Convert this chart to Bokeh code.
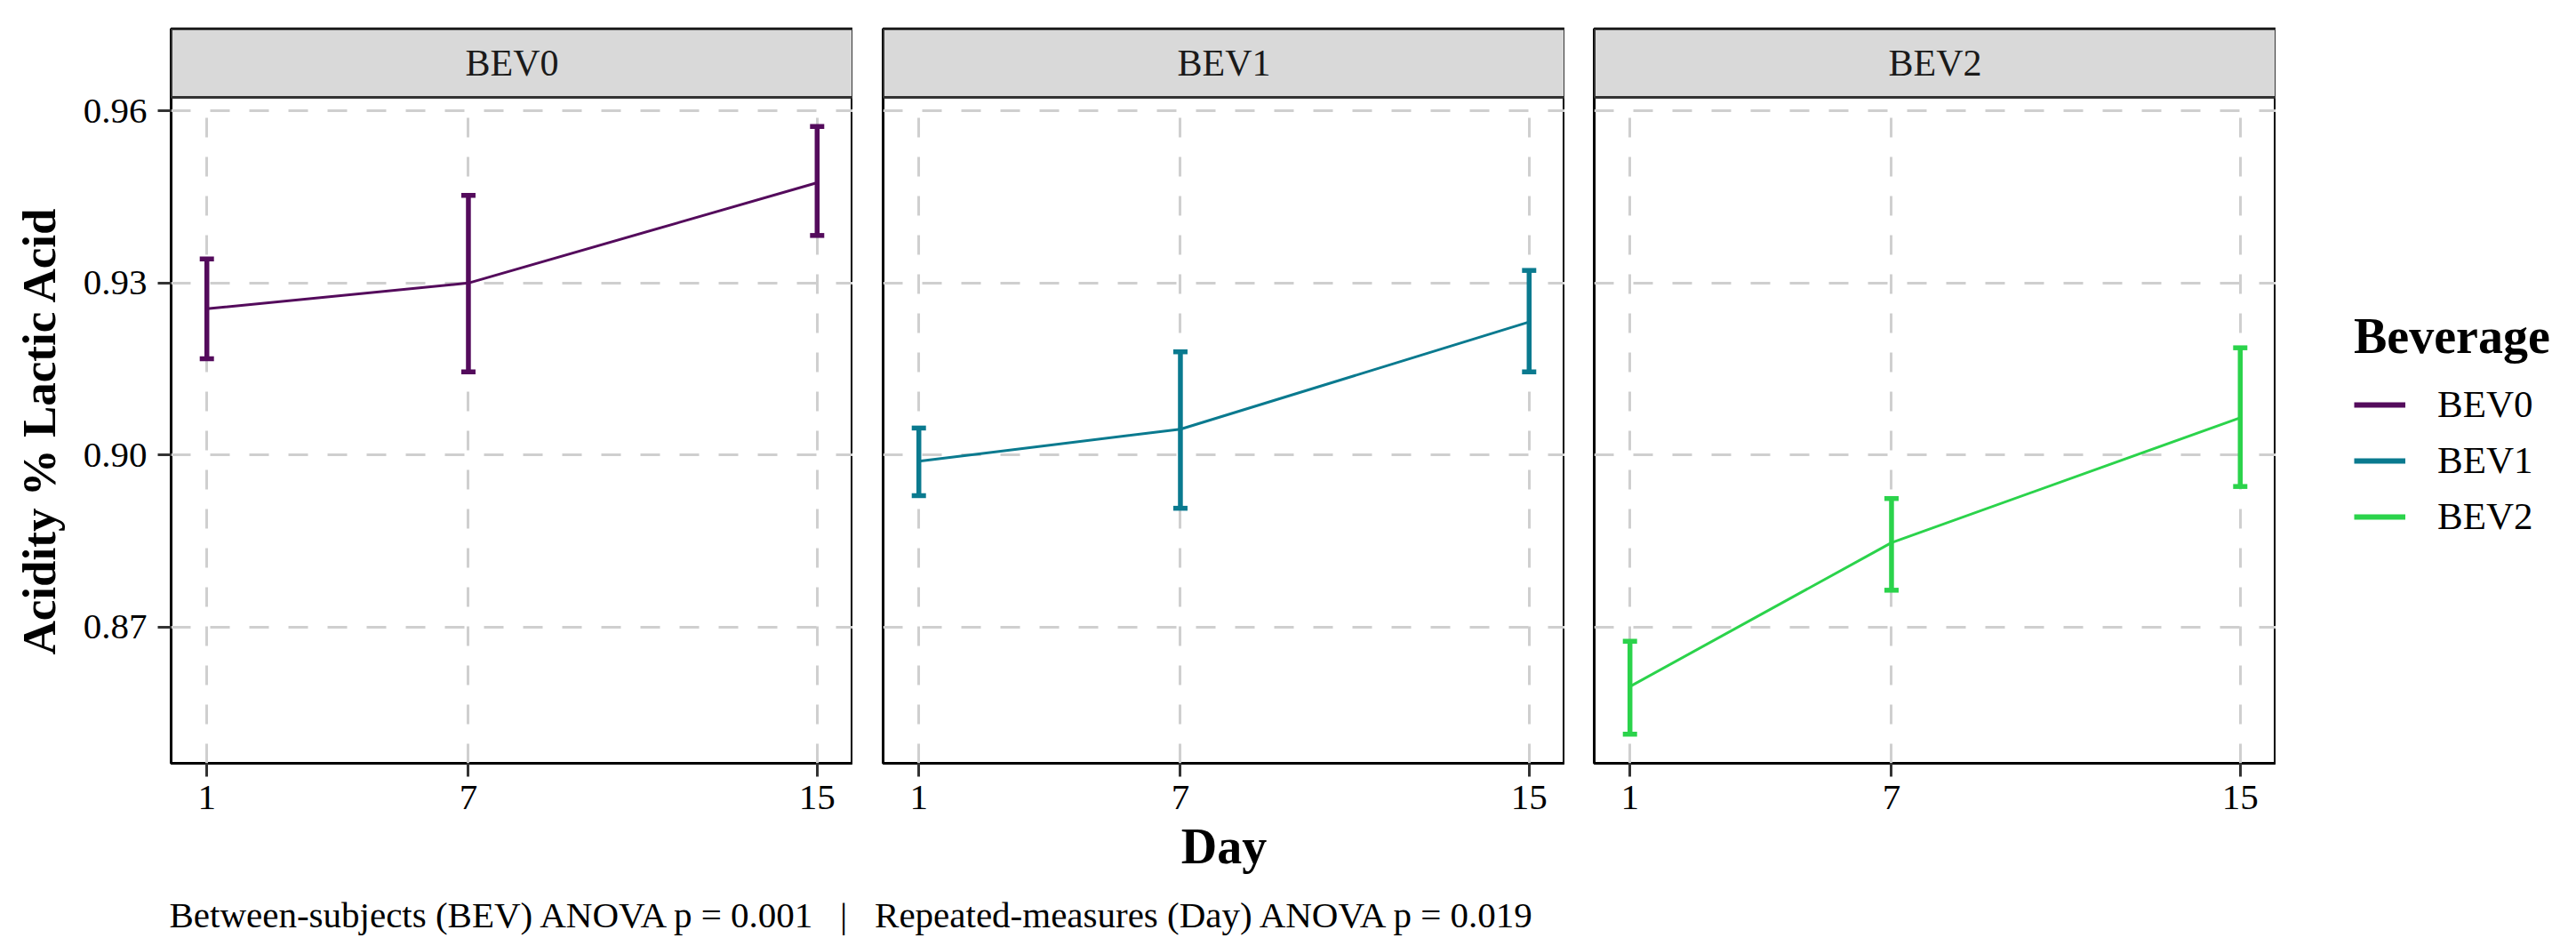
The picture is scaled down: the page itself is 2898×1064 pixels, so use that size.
import math

from bokeh.plotting import figure
from bokeh.models import (ColumnDataSource, Range1d, FixedTicker, PrintfTickFormatter,
                          Whisker, TeeHead, Label, Legend, LegendItem)
from bokeh.layouts import row, column
from bokeh.embed import file_html
from bokeh.resources import INLINE

# values
days = [1, 7, 15]
beverages = ["BEV0", "BEV1", "BEV2"]
colors = ["#540B5C", "#0A7A8F", "#2BD34B"]

bev0_mean = [0.9255, 0.9300, 0.9475]
bev0_lower = [0.9168, 0.9145, 0.9383]
bev0_upper = [0.9342, 0.9453, 0.9573]

bev1_mean = [0.8989, 0.9045, 0.9232]
bev1_lower = [0.8929, 0.8907, 0.9145]
bev1_upper = [0.9047, 0.9180, 0.9322]

bev2_mean = [0.8596, 0.8847, 0.9065]
bev2_lower = [0.8513, 0.8764, 0.8945]
bev2_upper = [0.8675, 0.8924, 0.9187]

y_ticks = [0.87, 0.90, 0.93, 0.96]
y_title = "Acidity % Lactic Acid"
caption = ("Between-subjects (BEV) ANOVA p = 0.001\u00a0\u00a0\u00a0|\u00a0\u00a0\u00a0"
           "Repeated-measures (Day) ANOVA p = 0.019")

series = [
    (bev0_mean, bev0_lower, bev0_upper),
    (bev1_mean, bev1_lower, bev1_upper),
    (bev2_mean, bev2_lower, bev2_upper),
]

FONT = "Liberation Serif"

# panel geometry (pixels)
widths = [869, 801, 800]
left_b = [101, 34, 33]
STRIP_PX, PANEL_PX = 77, 749

X0, X1 = 0.18, 15.82
Y0, PANEL_TOP = 0.8462, 0.9624
Y1 = PANEL_TOP + (PANEL_TOP - Y0) * STRIP_PX / PANEL_PX  # strip sits above the data area

# y axis title in a narrow column sharing the panels' vertical scale,
# centred on the data area (not on data + strip)
ytf = figure(width=90, height=992, x_range=Range1d(0, 90), y_range=Range1d(Y0, Y1),
             x_axis_location=None, y_axis_location=None, toolbar_location=None,
             output_backend="svg", min_border_left=0, min_border_right=0,
             min_border_top=32, min_border_bottom=134)
ytf.grid.visible = False
ytf.outline_line_color = None
ytf.add_layout(Label(x=43, y=(Y0 + PANEL_TOP) / 2, text=y_title, angle=math.pi / 2,
                     text_align="center", text_baseline="middle", text_font=FONT,
                     text_font_size="53px", text_font_style="bold", text_color="black"))

panels = []
for i, name in enumerate(beverages):
    p = figure(width=widths[i], height=992, x_range=Range1d(X0, X1), y_range=Range1d(Y0, Y1),
               toolbar_location=None, output_backend="svg",
               y_axis_location="left" if i == 0 else None,
               min_border_left=left_b[i], min_border_right=0,
               min_border_top=32, min_border_bottom=134)
    p.outline_line_color = "black"
    p.outline_line_width = 3

    p.xaxis.ticker = FixedTicker(ticks=days)
    p.ygrid.ticker = FixedTicker(ticks=y_ticks)
    p.grid.grid_line_color = "#CFCFCF"
    p.grid.grid_line_width = 3
    p.grid.grid_line_dash = "22 22"

    p.xaxis.axis_line_color = None
    p.xaxis.major_tick_line_color = "#333333"
    p.xaxis.major_tick_line_width = 3
    p.xaxis.major_tick_out = 15
    p.xaxis.major_tick_in = 0
    p.xaxis.minor_tick_line_color = None
    p.xaxis.major_label_text_font = FONT
    p.xaxis.major_label_text_font_size = "41px"
    p.xaxis.major_label_text_color = "black"
    p.xaxis.major_label_standoff = 10

    if i == 0:
        p.yaxis.ticker = FixedTicker(ticks=y_ticks)
        p.yaxis.formatter = PrintfTickFormatter(format="%.2f")
        p.yaxis.axis_line_color = None
        p.yaxis.major_tick_line_color = "#333333"
        p.yaxis.major_tick_line_width = 3
        p.yaxis.major_tick_out = 15
        p.yaxis.major_tick_in = 0
        p.yaxis.minor_tick_line_color = None
        p.yaxis.major_label_text_font = FONT
        p.yaxis.major_label_text_font_size = "41px"
        p.yaxis.major_label_text_color = "black"
        p.yaxis.major_label_standoff = 12
    if i == 1:
        p.xaxis.axis_label = "Day"
        p.xaxis.axis_label_text_font = FONT
        p.xaxis.axis_label_text_font_size = "56px"
        p.xaxis.axis_label_text_font_style = "bold"
        p.xaxis.axis_label_text_color = "black"
        p.xaxis.axis_label_standoff = 8

    # facet strip
    p.quad(left=X0, right=X1, bottom=PANEL_TOP, top=Y1, fill_color="#D9D9D9",
           line_color="#333333", line_width=3)
    p.add_layout(Label(x=(X0 + X1) / 2, y=(PANEL_TOP + Y1) / 2, text=name,
                       text_align="center", text_baseline="middle",
                       text_font=FONT, text_font_size="42px", text_color="#1A1A1A"))

    mean, lower, upper = series[i]
    src = ColumnDataSource(dict(day=days, mean=mean, lower=lower, upper=upper))
    c = colors[i]
    p.add_layout(Whisker(base="day", upper="upper", lower="lower", source=src,
                         line_color=c, line_width=5.5,
                         upper_head=TeeHead(size=16, line_color=c, line_width=5.5),
                         lower_head=TeeHead(size=16, line_color=c, line_width=5.5)))
    p.line("day", "mean", source=src, line_color=c, line_width=3)
    panels.append(p)

# legend in its own column to the right (proxy renderers hold no visible points)
leg = figure(width=338, height=992, x_range=Range1d(0, 1), y_range=Range1d(0, 1),
             x_axis_location=None, y_axis_location=None, toolbar_location=None,
             output_backend="svg", min_border_left=0, min_border_right=0,
             min_border_top=0, min_border_bottom=0)
leg.grid.visible = False
leg.outline_line_color = None
items = []
for name, c in zip(beverages, colors):
    r = leg.line([float("nan")], [float("nan")], line_color=c, line_width=6)
    items.append(LegendItem(label=name, renderers=[r]))
leg.add_layout(Legend(items=items, location=(88, 253), title="Beverage",
                      title_text_font=FONT, title_text_font_size="56px",
                      title_text_font_style="bold", title_text_color="black",
                      label_text_font=FONT, label_text_font_size="43px",
                      label_text_color="black",
                      glyph_width=58, glyph_height=44, label_standoff=36, spacing=14,
                      padding=0, margin=0, title_standoff=20,
                      border_line_color=None, background_fill_alpha=0))

cap = figure(width=2898, height=72, x_range=Range1d(0, 2898), y_range=Range1d(0, 72),
             x_axis_location=None, y_axis_location=None, toolbar_location=None,
             output_backend="svg", min_border=0)
cap.grid.visible = False
cap.outline_line_color = None
cap.add_layout(Label(x=190, y=36, text=caption, text_font=FONT, text_font_size="41px",
                     text_baseline="alphabetic", text_color="black"))

layout = column(row(ytf, *panels, leg), cap)
open("out.html", "w").write(file_html(layout, INLINE))
